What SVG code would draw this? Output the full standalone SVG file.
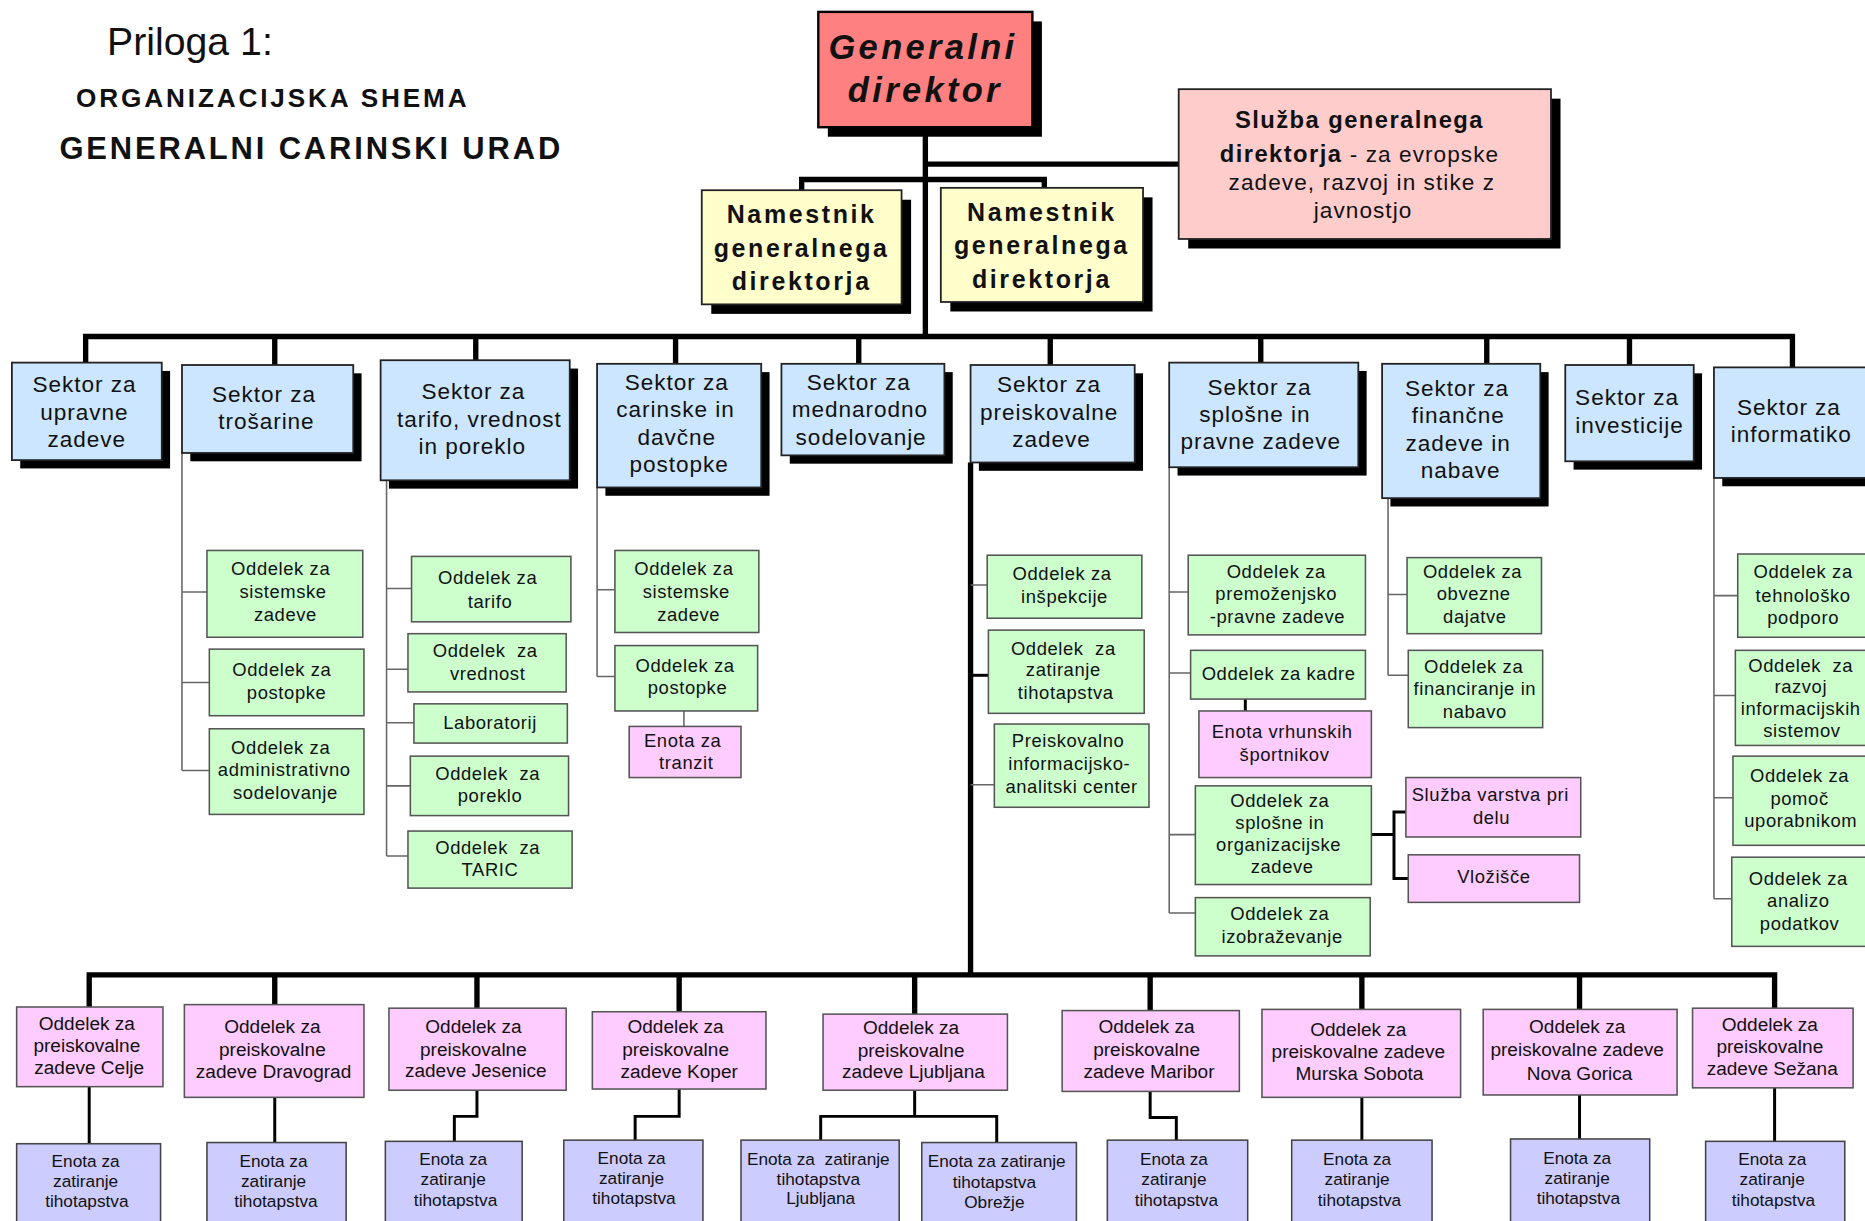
<svg xmlns="http://www.w3.org/2000/svg" width="1865" height="1221" viewBox="0 0 1865 1221">
<style>
text{font-family:"Liberation Sans",Arial,sans-serif;fill:#111}
.c{text-anchor:middle}
.sh{fill:#000}
.gd{fill:#FF8080;stroke:#000;stroke-width:2}
.sl{fill:#FFCCCC;stroke:#222;stroke-width:1.5}
.dep{fill:#FFFFCC;stroke:#222;stroke-width:1.5}
.sec{fill:#CCE6FF;stroke:#222;stroke-width:1.5}
.grn{fill:#CCFFCC;stroke:#555;stroke-width:1.3}
.pnk{fill:#FFCCFF;stroke:#555;stroke-width:1.3}
.lav{fill:#CCCCFF;stroke:#444;stroke-width:1.3}
.thick{stroke:#000;stroke-width:4.5;fill:none}
.mid{stroke:#000;stroke-width:2.5;fill:none}
.thin{stroke:#666;stroke-width:1.3;fill:none}
.st{font-size:19px;letter-spacing:0.8px}
.gt{font-size:15.5px;letter-spacing:0.5px}
.pt{font-size:16px}
.et{font-size:14.5px}
.dt{font-size:21px;font-weight:bold;letter-spacing:2.2px}
</style>
<rect width="1865" height="1221" fill="#fff"/>
<g transform="scale(1.18941,1.1889)">
<g id="title">
<text x="90" y="46" font-size="33">Priloga 1:</text>
<text x="64" y="90" font-size="22" font-weight="bold" letter-spacing="2.4">ORGANIZACIJSKA SHEMA</text>
<text x="50" y="134" font-size="26" font-weight="bold" letter-spacing="2.4">GENERALNI CARINSKI URAD</text>
</g>
<g id="connectors">
<path class="thick" d="M778 107V283M778 138H991M674 160V151H878V160M72 305V283H1507V309"/>
<path class="thick" d="M231 283V307M400 283V303M568 283V306M722 283V306M883 283V307M1060 283V305M1250 283V306M1370 283V307"/>
<path class="thick" d="M816 389V820M75 847V820H1492V848M231 820V845M401 820V848M571 820V851M769 820V853M967 820V850M1145 820V849M1328 820V849"/>
<path class="thin" d="M153 381V648M153 498H174M153 574H176M153 648H176"/>
<path class="thin" d="M325 404V720M325 495H346M325 563H343M325 608H348M325 661H345M325 720H343"/>
<path class="thin" d="M502 410V569M502 496H517M502 569H517M575 598V611"/>
<path class="thin" d="M816 492H830M816 660H836"/>
<path class="mid" d="M816 568H831"/>
<path class="thin" d="M983 393V768M983 498H999M983 566H1001M983 702H1005M983 768H1005"/>
<path class="mid" d="M1047 588V598M1153 702H1172M1182 683H1172V739H1184"/>
<path class="thin" d="M1167 419V568M1167 500H1183M1167 568H1184"/>
<path class="thin" d="M1441 402V756M1441 501H1461M1441 585H1459M1441 671H1457M1441 756H1456"/>
<path class="mid" d="M75 914V962M231 923V961M401 917V939H382V960M571 916V939H534V959M769 917V939M690 959V939H838V961M967 918V940H989V959M1145 923V959M1328 921V958M1492 915V960"/>
</g>
<g id="generalni-direktor">
<rect class="sh" x="696" y="18" width="180" height="97"/>
<rect class="gd" x="688" y="10" width="180" height="97"/>
<text class="c" x="776" y="50" font-size="29" font-weight="bold" font-style="italic" letter-spacing="2.8">Generalni</text>
<text class="c" x="778" y="86" font-size="29" font-weight="bold" font-style="italic" letter-spacing="2.8">direktor</text>
</g>
<g id="sluzba">
<rect class="sh" x="999" y="83" width="313" height="126"/>
<rect class="sl" x="991" y="75" width="313" height="126"/>
<text class="c" x="1143" y="108" font-size="20" font-weight="bold" letter-spacing="1.2">Služba generalnega</text>
<text class="c" x="1143" y="136" font-size="19" letter-spacing="0.9"><tspan font-weight="bold" font-size="20" letter-spacing="1.2">direktorja</tspan> - za evropske</text>
<text class="c" x="1145" y="160" font-size="19" letter-spacing="0.9">zadeve, razvoj in stike z</text>
<text class="c" x="1146" y="183" font-size="19" letter-spacing="0.9">javnostjo</text>
</g>
<g id="namestnik-1">
<rect class="sh" x="598" y="168" width="168" height="96"/>
<rect class="dep" x="590" y="160" width="168" height="96"/>
<text class="c dt" x="674" y="188">Namestnik</text>
<text class="c dt" x="674" y="216">generalnega</text>
<text class="c dt" x="674" y="244">direktorja</text>
</g>
<g id="namestnik-2">
<rect class="sh" x="799" y="166" width="170" height="96"/>
<rect class="dep" x="791" y="158" width="170" height="96"/>
<text class="c dt" x="876" y="186">Namestnik</text>
<text class="c dt" x="876" y="214">generalnega</text>
<text class="c dt" x="876" y="242">direktorja</text>
</g>
<g id="sektor-upravne">
<rect class="sh" x="17" y="312" width="126" height="82"/>
<rect class="sec" x="10" y="305" width="126" height="82"/>
<text class="c st" x="71" y="330">Sektor za</text>
<text class="c st" x="71" y="353">upravne</text>
<text class="c st" x="73" y="376">zadeve</text>
</g>
<g id="sektor-trosarine">
<rect class="sh" x="160" y="314" width="144" height="74"/>
<rect class="sec" x="153" y="307" width="144" height="74"/>
<text class="c st" x="222" y="338">Sektor za</text>
<text class="c st" x="224" y="361">trošarine</text>
</g>
<g id="sektor-tarifo">
<rect class="sh" x="327" y="310" width="159" height="101"/>
<rect class="sec" x="320" y="303" width="159" height="101"/>
<text class="c st" x="398" y="336">Sektor za</text>
<text class="c st" x="403" y="359">tarifo, vrednost</text>
<text class="c st" x="397" y="382">in poreklo</text>
</g>
<g id="sektor-carinske">
<rect class="sh" x="509" y="313" width="138" height="104"/>
<rect class="sec" x="502" y="306" width="138" height="104"/>
<text class="c st" x="569" y="328">Sektor za</text>
<text class="c st" x="568" y="351">carinske in</text>
<text class="c st" x="569" y="374">davčne</text>
<text class="c st" x="571" y="397">postopke</text>
</g>
<g id="sektor-mednarodno">
<rect class="sh" x="664" y="313" width="137" height="77"/>
<rect class="sec" x="657" y="306" width="137" height="77"/>
<text class="c st" x="722" y="328">Sektor za</text>
<text class="c st" x="723" y="351">mednarodno</text>
<text class="c st" x="724" y="374">sodelovanje</text>
</g>
<g id="sektor-preiskovalne">
<rect class="sh" x="823" y="314" width="138" height="82"/>
<rect class="sec" x="816" y="307" width="138" height="82"/>
<text class="c st" x="882" y="330">Sektor za</text>
<text class="c st" x="882" y="353">preiskovalne</text>
<text class="c st" x="884" y="376">zadeve</text>
</g>
<g id="sektor-splosne">
<rect class="sh" x="990" y="312" width="159" height="88"/>
<rect class="sec" x="983" y="305" width="159" height="88"/>
<text class="c st" x="1059" y="332">Sektor za</text>
<text class="c st" x="1055" y="355">splošne in</text>
<text class="c st" x="1060" y="378">pravne zadeve</text>
</g>
<g id="sektor-financne">
<rect class="sh" x="1169" y="313" width="133" height="113"/>
<rect class="sec" x="1162" y="306" width="133" height="113"/>
<text class="c st" x="1225" y="333">Sektor za</text>
<text class="c st" x="1226" y="356">finančne</text>
<text class="c st" x="1226" y="379">zadeve in</text>
<text class="c st" x="1228" y="402">nabave</text>
</g>
<g id="sektor-investicije">
<rect class="sh" x="1323" y="314" width="108" height="81"/>
<rect class="sec" x="1316" y="307" width="108" height="81"/>
<text class="c st" x="1368" y="341">Sektor za</text>
<text class="c st" x="1370" y="364">investicije</text>
</g>
<g id="sektor-informatiko">
<rect class="sh" x="1448" y="316" width="140" height="93"/>
<rect class="sec" x="1441" y="309" width="140" height="93"/>
<text class="c st" x="1504" y="349">Sektor za</text>
<text class="c st" x="1506" y="372">informatiko</text>
</g>
<g id="tr-sistemske"><rect class="grn" x="174" y="463" width="131" height="73"/>
<text class="c gt" x="236" y="484">Oddelek za</text><text class="c gt" x="238" y="503">sistemske</text><text class="c gt" x="240" y="522">zadeve</text></g>
<g id="tr-postopke"><rect class="grn" x="176" y="546" width="130" height="56"/>
<text class="c gt" x="237" y="569">Oddelek za</text><text class="c gt" x="241" y="588">postopke</text></g>
<g id="tr-admin"><rect class="grn" x="176" y="613" width="130" height="72"/>
<text class="c gt" x="236" y="634">Oddelek za</text><text class="c gt" x="239" y="653">administrativno</text><text class="c gt" x="240" y="672">sodelovanje</text></g>
<g id="ta-tarifo"><rect class="grn" x="346" y="468" width="134" height="55"/>
<text class="c gt" x="410" y="491">Oddelek za</text><text class="c gt" x="412" y="511">tarifo</text></g>
<g id="ta-vrednost"><rect class="grn" x="343" y="533" width="133" height="49"/>
<text class="c gt" x="408" y="553" xml:space="preserve">Oddelek  za</text><text class="c gt" x="410" y="572">vrednost</text></g>
<g id="ta-lab"><rect class="grn" x="348" y="592" width="129" height="33"/>
<text class="c gt" x="412" y="613">Laboratorij</text></g>
<g id="ta-poreklo"><rect class="grn" x="345" y="636" width="133" height="50"/>
<text class="c gt" x="410" y="656" xml:space="preserve">Oddelek  za</text><text class="c gt" x="412" y="675">poreklo</text></g>
<g id="ta-taric"><rect class="grn" x="343" y="699" width="138" height="48"/>
<text class="c gt" x="410" y="718" xml:space="preserve">Oddelek  za</text><text class="c gt" x="412" y="737">TARIC</text></g>
<g id="ca-sistemske"><rect class="grn" x="517" y="463" width="121" height="69"/>
<text class="c gt" x="575" y="484">Oddelek za</text><text class="c gt" x="577" y="503">sistemske</text><text class="c gt" x="579" y="522">zadeve</text></g>
<g id="ca-postopke"><rect class="grn" x="517" y="543" width="120" height="55"/>
<text class="c gt" x="576" y="565">Oddelek za</text><text class="c gt" x="578" y="584">postopke</text></g>
<g id="ca-tranzit"><rect class="pnk" x="529" y="611" width="94" height="43"/>
<text class="c gt" x="574" y="628">Enota za</text><text class="c gt" x="577" y="647">tranzit</text></g>
<g id="pr-inspekcije"><rect class="grn" x="830" y="467" width="130" height="53"/>
<text class="c gt" x="893" y="488">Oddelek za</text><text class="c gt" x="895" y="507">inšpekcije</text></g>
<g id="pr-zatiranje"><rect class="grn" x="831" y="530" width="131" height="70"/>
<text class="c gt" x="894" y="551" xml:space="preserve">Oddelek  za</text><text class="c gt" x="894" y="569">zatiranje</text><text class="c gt" x="896" y="588">tihotapstva</text></g>
<g id="pr-center"><rect class="grn" x="836" y="609" width="130" height="70"/>
<text class="c gt" x="898" y="628">Preiskovalno</text><text class="c gt" x="899" y="648">informacijsko-</text><text class="c gt" x="901" y="667">analitski center</text></g>
<g id="sp-premozenjsko"><rect class="grn" x="999" y="467" width="149" height="67"/>
<text class="c gt" x="1073" y="486">Oddelek za</text><text class="c gt" x="1073" y="505">premoženjsko</text><text class="c gt" x="1074" y="524">-pravne zadeve</text></g>
<g id="sp-kadre"><rect class="grn" x="1001" y="547" width="147" height="41"/>
<text class="c gt" x="1075" y="572">Oddelek za kadre</text></g>
<g id="sp-sportniki"><rect class="pnk" x="1008" y="598" width="145" height="56"/>
<text class="c gt" x="1078" y="621">Enota vrhunskih</text><text class="c gt" x="1080" y="640">športnikov</text></g>
<g id="sp-organizacijske"><rect class="grn" x="1005" y="661" width="148" height="83"/>
<text class="c gt" x="1076" y="679">Oddelek za</text><text class="c gt" x="1076" y="697">splošne in</text><text class="c gt" x="1075" y="716">organizacijske</text><text class="c gt" x="1078" y="734">zadeve</text></g>
<g id="sp-izobrazevanje"><rect class="grn" x="1005" y="755" width="147" height="49"/>
<text class="c gt" x="1076" y="774">Oddelek za</text><text class="c gt" x="1078" y="793">izobraževanje</text></g>
<g id="sp-varstvo"><rect class="pnk" x="1182" y="654" width="147" height="50"/>
<text class="c gt" x="1253" y="674">Služba varstva pri</text><text class="c gt" x="1254" y="693">delu</text></g>
<g id="sp-vlozisce"><rect class="pnk" x="1184" y="719" width="144" height="40"/>
<text class="c gt" x="1256" y="743">Vložišče</text></g>
<g id="fi-dajatve"><rect class="grn" x="1183" y="469" width="113" height="64"/>
<text class="c gt" x="1238" y="486">Oddelek za</text><text class="c gt" x="1239" y="505">obvezne</text><text class="c gt" x="1240" y="524">dajatve</text></g>
<g id="fi-financiranje"><rect class="grn" x="1184" y="547" width="113" height="65"/>
<text class="c gt" x="1239" y="566">Oddelek za</text><text class="c gt" x="1240" y="585">financiranje in</text><text class="c gt" x="1240" y="604">nabavo</text></g>
<g id="in-tehnolosko"><rect class="grn" x="1461" y="466" width="120" height="70"/>
<text class="c gt" x="1516" y="486">Oddelek za</text><text class="c gt" x="1516" y="506">tehnološko</text><text class="c gt" x="1516" y="525">podporo</text></g>
<g id="in-razvoj"><rect class="grn" x="1459" y="547" width="122" height="80"/>
<text class="c gt" x="1514" y="565" xml:space="preserve">Oddelek  za</text><text class="c gt" x="1514" y="583">razvoj</text><text class="c gt" x="1514" y="601">informacijskih</text><text class="c gt" x="1515" y="620">sistemov</text></g>
<g id="in-pomoc"><rect class="grn" x="1457" y="636" width="124" height="75"/>
<text class="c gt" x="1513" y="658">Oddelek za</text><text class="c gt" x="1513" y="677">pomoč</text><text class="c gt" x="1514" y="696">uporabnikom</text></g>
<g id="in-analiza"><rect class="grn" x="1456" y="721" width="125" height="75"/>
<text class="c gt" x="1512" y="744">Oddelek za</text><text class="c gt" x="1512" y="763">analizo</text><text class="c gt" x="1513" y="782">podatkov</text></g>
<g id="op-celje"><rect class="pnk" x="14" y="847" width="123" height="67"/>
<text class="c pt" x="73" y="866">Oddelek za</text><text class="c pt" x="73" y="885">preiskovalne</text><text class="c pt" x="75" y="903">zadeve Celje</text></g>
<g id="op-dravograd"><rect class="pnk" x="155" y="845" width="151" height="78"/>
<text class="c pt" x="229" y="869">Oddelek za</text><text class="c pt" x="229" y="888">preiskovalne</text><text class="c pt" x="230" y="907">zadeve Dravograd</text></g>
<g id="op-jesenice"><rect class="pnk" x="327" y="848" width="149" height="69"/>
<text class="c pt" x="398" y="869">Oddelek za</text><text class="c pt" x="398" y="888">preiskovalne</text><text class="c pt" x="400" y="906">zadeve Jesenice</text></g>
<g id="op-koper"><rect class="pnk" x="498" y="851" width="146" height="65"/>
<text class="c pt" x="568" y="869">Oddelek za</text><text class="c pt" x="568" y="888">preiskovalne</text><text class="c pt" x="571" y="907">zadeve Koper</text></g>
<g id="op-ljubljana"><rect class="pnk" x="692" y="853" width="155" height="64"/>
<text class="c pt" x="766" y="870">Oddelek za</text><text class="c pt" x="766" y="889">preiskovalne</text><text class="c pt" x="768" y="907">zadeve Ljubljana</text></g>
<g id="op-maribor"><rect class="pnk" x="893" y="850" width="149" height="68"/>
<text class="c pt" x="964" y="869">Oddelek za</text><text class="c pt" x="964" y="888">preiskovalne</text><text class="c pt" x="966" y="907">zadeve Maribor</text></g>
<g id="op-murska"><rect class="pnk" x="1061" y="849" width="167" height="74"/>
<text class="c pt" x="1142" y="871">Oddelek za</text><text class="c pt" x="1142" y="890">preiskovalne zadeve</text><text class="c pt" x="1143" y="908">Murska Sobota</text></g>
<g id="op-novagorica"><rect class="pnk" x="1247" y="849" width="163" height="72"/>
<text class="c pt" x="1326" y="869">Oddelek za</text><text class="c pt" x="1326" y="888">preiskovalne zadeve</text><text class="c pt" x="1328" y="908">Nova Gorica</text></g>
<g id="op-sezana"><rect class="pnk" x="1423" y="848" width="135" height="67"/>
<text class="c pt" x="1488" y="867">Oddelek za</text><text class="c pt" x="1488" y="886">preiskovalne</text><text class="c pt" x="1490" y="904">zadeve Sežana</text></g>
<g id="ez-celje"><rect class="lav" x="14" y="962" width="121" height="70"/>
<text class="c et" x="72" y="982">Enota za</text><text class="c et" x="72" y="998">zatiranje</text><text class="c et" x="73" y="1015">tihotapstva</text></g>
<g id="ez-dravograd"><rect class="lav" x="174" y="961" width="117" height="70"/>
<text class="c et" x="230" y="982">Enota za</text><text class="c et" x="230" y="998">zatiranje</text><text class="c et" x="232" y="1015">tihotapstva</text></g>
<g id="ez-jesenice"><rect class="lav" x="324" y="960" width="115" height="70"/>
<text class="c et" x="381" y="980">Enota za</text><text class="c et" x="381" y="997">zatiranje</text><text class="c et" x="383" y="1014">tihotapstva</text></g>
<g id="ez-koper"><rect class="lav" x="474" y="959" width="117" height="70"/>
<text class="c et" x="531" y="979">Enota za</text><text class="c et" x="531" y="996">zatiranje</text><text class="c et" x="533" y="1013">tihotapstva</text></g>
<g id="ez-ljubljana"><rect class="lav" x="623" y="959" width="133" height="70"/>
<text class="c et" x="688" y="980" xml:space="preserve">Enota za  zatiranje</text><text class="c et" x="688" y="997">tihotapstva</text><text class="c et" x="690" y="1013">Ljubljana</text></g>
<g id="ez-obrezje"><rect class="lav" x="775" y="961" width="130" height="70"/>
<text class="c et" x="838" y="982">Enota za zatiranje</text><text class="c et" x="836" y="999">tihotapstva</text><text class="c et" x="836" y="1016">Obrežje</text></g>
<g id="ez-maribor"><rect class="lav" x="931" y="959" width="118" height="70"/>
<text class="c et" x="987" y="980">Enota za</text><text class="c et" x="987" y="997">zatiranje</text><text class="c et" x="989" y="1014">tihotapstva</text></g>
<g id="ez-murska"><rect class="lav" x="1086" y="959" width="118" height="70"/>
<text class="c et" x="1141" y="980">Enota za</text><text class="c et" x="1141" y="997">zatiranje</text><text class="c et" x="1143" y="1014">tihotapstva</text></g>
<g id="ez-novagorica"><rect class="lav" x="1270" y="958" width="117" height="70"/>
<text class="c et" x="1326" y="979">Enota za</text><text class="c et" x="1326" y="996">zatiranje</text><text class="c et" x="1327" y="1013">tihotapstva</text></g>
<g id="ez-sezana"><rect class="lav" x="1434" y="960" width="117" height="70"/>
<text class="c et" x="1490" y="980">Enota za</text><text class="c et" x="1490" y="997">zatiranje</text><text class="c et" x="1491" y="1014">tihotapstva</text></g>
</g>
</svg>
